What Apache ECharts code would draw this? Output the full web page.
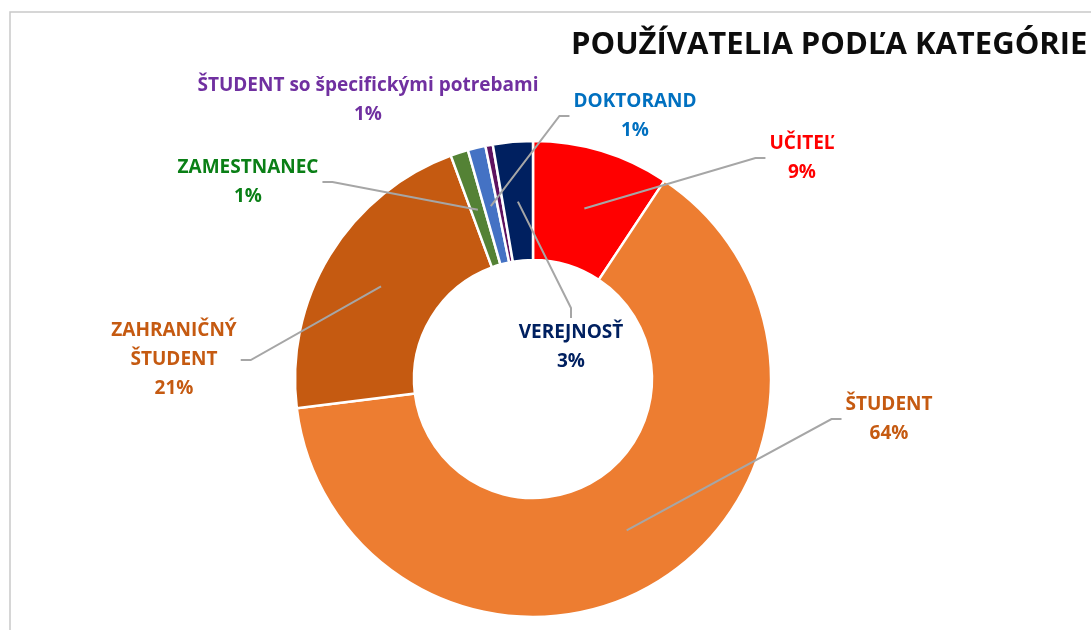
<!DOCTYPE html>
<html>
<head>
<meta charset="utf-8">
<script src="https://cdn.jsdelivr.net/npm/echarts@6/dist/echarts.min.js"></script>
<style>
html,body{margin:0;padding:0;background:#fff;}
#chart{width:1091px;height:630px;}
</style>
</head>
<body>
<div id="chart"></div>
<script>
// ---- data ----
var categories = ['UČITEĽ', 'ŠTUDENT', 'ZAHRANIČNÝ\nŠTUDENT', 'ZAMESTNANEC', 'DOKTORAND', 'ŠTUDENT so špecifickými potrebami', 'VEREJNOSŤ'];
var values = [9.3, 63.6, 21.3, 1.2, 1.2, 0.5, 2.7];
var titleText = 'POUŽÍVATELIA PODĽA KATEGÓRIE';

// ---- styles / layout ----
var sliceColors = ['#FF0000', '#ED7D31', '#C55A11', '#548235', '#4472C4', '#5E1260', '#002060'];
var labelColors = ['#FF0000', '#C55A11', '#C55A11', '#0A7F16', '#0070C0', '#7030A0', '#002060'];
var labelPosX = [802, 889, 174, 248, 635, 368, 571];
var labelPosY = [158, 419, 360, 182, 116, 100, 347];
var showLine = [true, true, true, true, true, false, true];
var FONT = '"Open Sans", sans-serif';

var chart = echarts.init(document.getElementById('chart'));

var ringData = categories.map(function (c, i) {
  return { name: c, value: values[i], itemStyle: { color: sliceColors[i] } };
});
var labelData = categories.map(function (c, i) {
  return {
    name: c, value: values[i],
    label: { color: labelColors[i] },
    labelLine: { show: showLine[i] }
  };
});

chart.setOption({
  backgroundColor: '#fff',
  animation: false,
  title: {
    text: titleText,
    left: 566, top: 25,
    textStyle: { fontFamily: FONT, fontSize: 31, fontWeight: 'bold', color: '#0D0D0D' }
  },
  graphic: [{
    type: 'rect', silent: true,
    shape: { x: 10, y: 12, width: 1200, height: 1000 },
    style: { fill: 'none', stroke: '#C9C9C9', lineWidth: 1.5 }
  }],
  series: [{
    type: 'pie',
    radius: [119, 238],
    center: [533, 379],
    startAngle: 90,
    clockwise: true,
    silent: true,
    label: { show: false },
    labelLine: { show: false },
    itemStyle: { borderColor: '#fff', borderWidth: 2.5 },
    data: ringData,
    z: 1
  }, {
    type: 'pie',
    radius: [0, 178],
    center: [533, 379],
    startAngle: 90,
    clockwise: true,
    silent: true,
    avoidLabelOverlap: false,
    itemStyle: { color: 'rgba(0,0,0,0)', borderWidth: 0 },
    label: {
      show: true,
      position: 'outside',
      fontFamily: FONT,
      fontSize: 19,
      fontWeight: 'bold',
      lineHeight: 29,
      align: 'center',
      padding: [0, 4],
      formatter: function (p) { return p.name + '\n' + Math.round(p.percent) + '%'; }
    },
    labelLine: {
      show: true, length: 5, length2: 10,
      lineStyle: { color: '#A6A6A6', width: 2 }
    },
    labelLayout: function (p) {
      return { x: labelPosX[p.dataIndex], y: labelPosY[p.dataIndex], align: 'center', verticalAlign: 'middle' };
    },
    data: labelData,
    z: 2
  }]
});
</script>
</body>
</html>
